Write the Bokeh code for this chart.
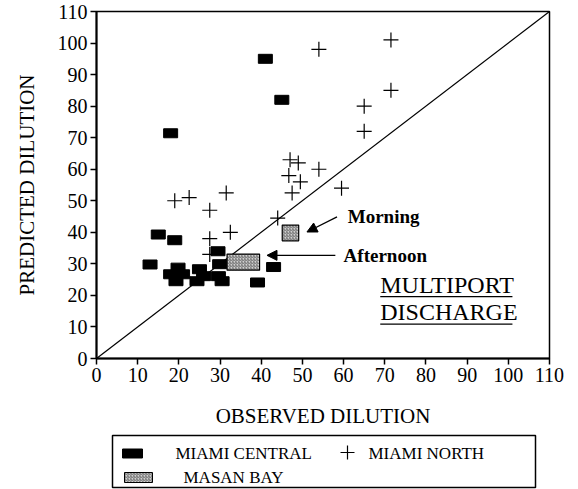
from bokeh.plotting import figure
from bokeh.models import Range1d, Label, Arrow, NormalHead, FixedTicker
from bokeh.layouts import column
from bokeh.core.properties import value
from bokeh.embed import file_html
from bokeh.resources import INLINE

# ---- data ----
ticks = [0, 10, 20, 30, 40, 50, 60, 70, 80, 90, 100, 110]
diag = [0, 110]

central_x = [41, 45, 18, 15, 19, 13, 19.8, 18, 19.3, 20.9, 25, 24.4, 26, 29.5, 29.9, 29.6, 30.5, 39.1, 43]
central_y = [95, 82, 71.4, 39.3, 37.5, 29.8, 28.8, 26.7, 24.5, 26.7, 28.3, 24.5, 26.1, 34, 29.9, 26.1, 24.5, 24.1, 29]

north_x = [54, 71.5, 71.5, 65, 65, 47, 49, 54, 46.7, 49.5, 47.5, 59.5, 19, 22.5, 31.5, 27.5, 32.5, 27.5, 27.5, 44]
north_y = [98, 101, 85, 80, 72, 63, 62, 60, 58, 56, 52.5, 54, 50, 51, 52.5, 47, 40, 38, 33, 44.5]

masan_names = ["Morning", "Afternoon"]
masan_x0 = [45.1, 31.7]
masan_x1 = [49.1, 39.6]
masan_y0 = [37.3, 28.0]
masan_y1 = [42.3, 33.1]

series_names = ["MIAMI CENTRAL", "MIAMI NORTH", "MASAN BAY"]

SERIF = "Liberation Serif"
HATCH = dict(fill_color="#d0d0d0", hatch_pattern="right_diagonal_line",
             hatch_color="#444444", hatch_scale=3, hatch_weight=0.7)

p = figure(width=578, height=433, x_range=Range1d(0, 110), y_range=Range1d(0, 110),
           output_backend="svg", toolbar_location=None,
           min_border_left=96, min_border_right=29, min_border_top=11, min_border_bottom=75)
p.background_fill_color = "white"
p.border_fill_color = "white"
p.grid.visible = False
p.outline_line_color = "black"
p.outline_line_width = 1.5

for ax in (p.xaxis[0], p.yaxis[0]):
    ax.ticker = FixedTicker(ticks=ticks)
    ax.minor_tick_line_color = None
    ax.major_tick_in = 0
    ax.major_tick_out = 6
    ax.major_tick_line_width = 1.5
    ax.axis_line_width = 2
    ax.major_label_text_font = SERIF
    ax.major_label_text_font_size = "20px"
    ax.major_label_text_color = "black"
    ax.axis_label_text_font = SERIF
    ax.axis_label_text_font_style = "normal"
    ax.axis_label_text_font_size = "21px"
    ax.axis_label_text_color = "black"

p.xaxis.axis_label = "OBSERVED DILUTION"
p.yaxis.axis_label = "PREDICTED DILUTION"
p.xaxis.major_label_standoff = 3
p.yaxis.major_label_standoff = 3
p.xaxis.axis_label_standoff = 19
p.yaxis.axis_label_standoff = 16

p.line(diag, diag, line_color="black", line_width=1.2)

p.rect(central_x, central_y, width=14, height=9, width_units="screen",
       height_units="screen", fill_color="black", line_color="black")
p.scatter(north_x, north_y, marker="cross", size=15, line_color="black", line_width=1.2)
p.quad(left=masan_x0, right=masan_x1, bottom=masan_y0, top=masan_y1,
       line_color="black", line_width=1.2, **HATCH)

# annotations
LBL = dict(text_font=SERIF, text_color="black", text_baseline="middle", text_align="left")
p.add_layout(Label(x=61, y=44.9, text="Morning", text_font_style="bold",
                   text_font_size="19px", **LBL))
p.add_layout(Label(x=60, y=32.5, text="Afternoon", text_font_style="bold",
                   text_font_size="19px", **LBL))
p.add_layout(Arrow(end=NormalHead(size=10, fill_color="black", line_color="black"),
                   x_start=58.4, y_start=44.9, x_end=51.1, y_end=40.1, line_width=1.3))
p.add_layout(Arrow(end=NormalHead(size=10, fill_color="black", line_color="black"),
                   x_start=58, y_start=32.7, x_end=41.4, y_end=32.7, line_width=1.3))
p.add_layout(Label(x=68.9, y=23.3, text="MULTIPORT", text_font_size="24px", **LBL))
p.add_layout(Label(x=68.9, y=14.8, text="DISCHARGE", text_font_size="24px", **LBL))
p.segment(x0=[68.9, 68.9], y0=[19.6, 10.9], x1=[101, 101], y1=[19.6, 10.9],
          line_color="black", line_width=1.3)

# ---- legend panel (page-pixel coordinates; frame is aligned with the plot above) ----
lg = figure(width=578, height=56, x_range=Range1d(96, 549), y_range=Range1d(0, 56),
            output_backend="svg", toolbar_location=None,
            x_axis_location=None, y_axis_location=None,
            min_border_left=96, min_border_right=29, min_border_top=0, min_border_bottom=0)
lg.grid.visible = False
lg.outline_line_color = None
lg.background_fill_color = "white"
lg.border_fill_color = "white"

lg.quad(left=[112], right=[535], bottom=[2], top=[54], fill_color=None,
        line_color="black", line_width=1.5)
lg.rect([132], [36], width=20, height=9, width_units="screen", height_units="screen",
        fill_color="black", line_color="black")
lg.scatter([347], [37], marker="cross", size=14, line_color="black", line_width=1.2)
lg.quad(left=[124], right=[152], bottom=[7], top=[17], line_color="black",
        line_width=1, **HATCH)
lg.text(x=[175, 368, 183], y=[36, 36, 12], text=series_names,
        text_font=value(SERIF), text_font_size="17px", text_baseline="middle",
        text_align="left", text_color="black")

layout = column(p, lg, spacing=0)
open("out.html", "w").write(file_html(layout, INLINE))
